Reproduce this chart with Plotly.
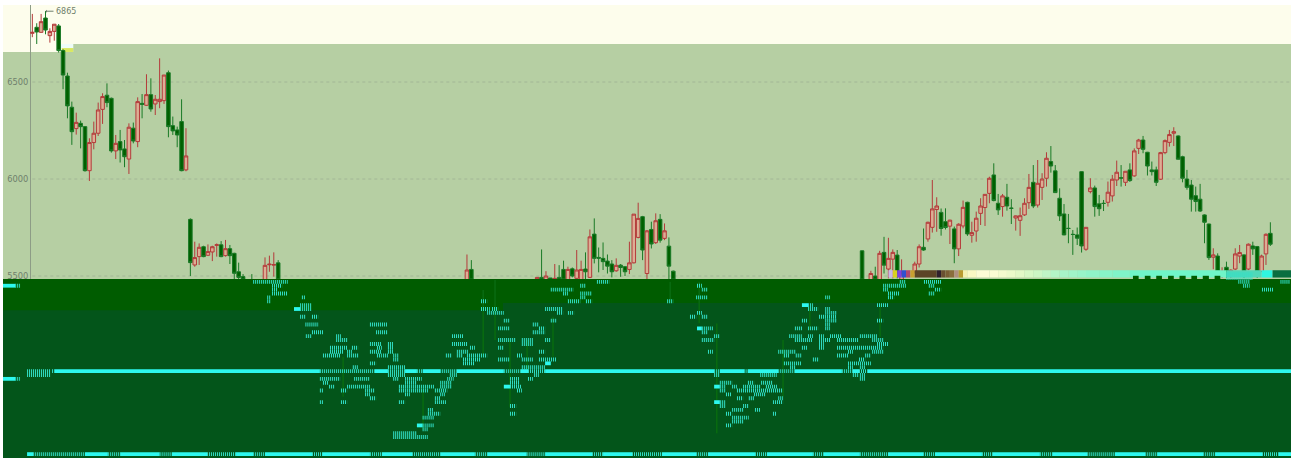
import plotly.graph_objects as go

TICK_VALUES = [5500, 6000, 6500]
PEAK_BAR = 3
PEAK_VALUE = 6865

BAR = list(range(49)) + [50, 53, 54, 55, 56, 99, 100] + list(range(115, 147)) + [189] + list(range(191, 199)) + list(range(201, 283))
OPEN = [6751,6782,6756,6830,6739,6761,6789,6662,6531,6370,6260,6287,6270,6043,6188,6236,6359,6432,6416,6145,6193,6155,6103,6262,6193,6390,6380,6435,6387,6399,6404,6548,6275,6253,6296,6047,5792,5557,5600,5651,5607,5624,5658,5661,5605,5641,5617,5522,5497,
        5480,5480,5558,5556,5568,5480,5534,
        5480,5493,5480,5490,5480,5493,5534,5480,5537,5488,5480,5536,5493,5716,5596,5591,5577,5562,5527,5556,5548,5534,5568,5699,5806,5513,5740,5672,5792,5694,5654,5525,
        5630,
        5480,5500,5480,5622,5536,5587,5608,5480,
        5522,5562,5648,5691,5751,5843,5828,5780,5757,5743,5640,5758,5880,5710,5732,5823,5853,5926,6021,5875,5858,5906,5850,5799,5787,5815,5878,5983,5866,5957,6004,6090,6042,5901,5820,5746,5715,5712,6038,5638,5935,5954,5872,5875,5880,5913,5995,6006,5983,6047,6016,6158,6201,6138,6047,6047,5999,6136,6189,6236,6222,6115,6000,5969,5914,5896,5815,5768,5597,5603,5505,5545,5505,5536,5603,5609,5536,5655,5652,5523,5614,5720]
HIGH = [6851,6803,6851,6866,6777,6799,6799,6669,6548,6399,6342,6301,6273,6210,6296,6394,6442,6493,6420,6227,6253,6201,6287,6291,6421,6438,6540,6519,6433,6622,6536,6559,6322,6270,6411,6262,5797,5677,5668,5656,5663,5656,5668,5680,5686,5660,5620,5569,5510,
        5510,5596,5605,5622,5582,5611,5582,
        5493,5637,5525,5490,5562,5556,5579,5548,5544,5634,5579,5622,5740,5797,5647,5673,5611,5582,5591,5562,5551,5677,5819,5878,5810,5737,5780,5823,5819,5771,5699,5528,
        5632,
        5527,5548,5630,5702,5697,5637,5634,5586,
        5574,5663,5745,5780,5995,5906,5848,5849,5790,5755,5772,5889,5883,5780,5832,5901,5921,6012,6081,5923,5923,5975,5896,5812,5853,5901,6026,6072,6098,6030,6138,6170,6072,5952,5871,5820,5737,5750,6040,5751,6004,5966,5918,5892,5987,6021,6095,6072,6040,6081,6158,6207,6222,6140,6090,6064,6140,6204,6253,6267,6225,6120,6047,5995,5961,5975,5818,5770,5643,5617,5545,5574,5535,5643,5660,5612,5668,5677,5655,5610,5720,5777]
LOW = [6731,6696,6755,6746,6703,6713,6652,6463,6313,6176,6229,6158,6038,5990,6153,6222,6284,6370,6136,6103,6085,6061,6026,6184,6164,6313,6377,6347,6330,6365,6387,6215,6227,6164,6040,6040,5500,5548,5557,5597,5603,5577,5600,5597,5600,5562,5483,5483,5483,
       5465,5470,5522,5497,5470,5470,5470,
       5470,5470,5470,5470,5470,5470,5470,5470,5493,5470,5470,5480,5490,5565,5519,5531,5513,5493,5522,5496,5500,5510,5565,5694,5582,5483,5642,5665,5672,5685,5483,5470,
       5470,
       5470,5470,5470,5513,5488,5488,5488,5470,
       5513,5544,5630,5677,5724,5728,5708,5740,5665,5566,5603,5746,5707,5672,5677,5763,5758,5875,5885,5815,5806,5837,5768,5734,5707,5810,5846,5850,5853,5892,5961,6033,5928,5784,5710,5669,5609,5660,5621,5630,5926,5806,5810,5835,5858,5884,5964,5961,5964,5985,6012,6129,6133,6018,6018,5964,5995,6128,6167,6170,6100,5983,5945,5832,5832,5830,5669,5583,5535,5523,5490,5490,5490,5530,5566,5490,5530,5609,5490,5520,5557,5655]
CLOSE = [6756,6758,6811,6768,6761,6798,6662,6536,6377,6244,6292,6270,6043,6188,6236,6356,6425,6394,6145,6184,6150,6115,6267,6196,6399,6385,6435,6361,6411,6411,6536,6270,6248,6227,6043,6119,5569,5595,5648,5600,5626,5651,5661,5600,5641,5605,5514,5493,5483,
         5470,5555,5561,5559,5480,5531,5480,
         5493,5480,5500,5480,5488,5480,5480,5534,5500,5531,5534,5522,5702,5591,5592,5574,5551,5522,5555,5544,5522,5568,5819,5797,5634,5733,5665,5785,5685,5733,5551,5480,
         5480,
         5513,5480,5617,5556,5591,5622,5513,5510,
         5562,5651,5634,5777,5846,5861,5745,5750,5788,5640,5767,5854,5717,5724,5798,5861,5921,6004,5889,5841,5913,5861,5849,5810,5811,5875,5957,5861,5978,6000,6107,6067,5930,5810,5712,5745,5714,5695,5655,5751,5954,5858,5847,5874,5932,5999,6035,6005,6040,5992,6145,6201,6153,6067,6038,5983,6136,6198,6229,6244,6102,6004,5957,5896,5884,5835,5777,5595,5609,5523,5525,5523,5530,5614,5621,5523,5664,5640,5523,5603,5715,5664]

# rows of the overlay grid: value, then the bar spans drawn solid on that row
SOLID_ROWS = [5450, 4970, 5010, 4582, 5330, 4930, 5050, 4730, 5350, 5230, 4850]
SOLID_SPANS = [
    [(-6.7, -3.9)],
    [(-6.7, -3.9)],
    [(5, 65.5), (78, 81), (84.9, 87.6), (88.9, 92.9), (96.7, 107.4), (111.3, 112.9), (116.8, 155.3), (156.6, 162.2), (163, 169.9), (173.7, 184.4), (186.9, 188.3), (190.2, 286.7)],
    [(-1.2, 0.2), (12, 17.2), (20, 29), (31.8, 39.8), (46.4, 50.3), (53, 63.7), (66, 76.9), (79.6, 86.5), (92.9, 100.8), (103.6, 112.6), (116.8, 127.5), (130, 136.6), (143.4, 151.2), (153.9, 164.6), (167.3, 177.8), (180.3, 188.5), (194.9, 202.9), (205.6, 216.3), (218.8, 229.5), (232.3, 240.3), (246.6, 253.5), (256.2, 266.7), (269.4, 280.1), (283.8, 286.7)],
    [(59.6, 61)],
    [(107.4, 108.8), (155.3, 156.6)],
    [(116.8, 118.1)],
    [(87.6, 88.9)],
    [(175.3, 176.7)],
    [(151.4, 152.5)],
    [(155.3, 156.6)],
]

STRIPE_ROWS = [5510, 5490, 5470, 5450, 5430, 5410, 5390, 5370, 5350, 5330, 5310, 5290, 5270, 5250, 5230, 5210, 5190, 5170, 5150, 5130, 5110, 5090, 5070, 5050, 5030, 5010, 4990, 4970, 4950, 4930, 4910, 4890, 4870, 4850, 4830, 4810, 4790, 4770, 4750, 4730, 4710, 4690, 4670, 4582]
STRIPE_SPANS = [
    [(272, 278)],
    [(272, 278)],
    [(50.3, 58.2), (128.6, 131.4), (197.6, 199), (203.1, 207), (274.7, 277.3), (284.3, 286.5)],
    [(-3.9, -2.8), (54.6, 56.9), (124.8, 126.1), (151.4, 152.5), (193.8, 199), (204.2, 205.6), (275.8, 277.3)],
    [(54.6, 55.8), (118.1, 123.2), (152.5, 153.9), (193.8, 194.9), (205.6, 207), (280.1, 282.6)],
    [(54.6, 58.2), (120.9, 122), (124.8, 127.5), (194.9, 197.6), (204.2, 205.6)],
    [(53.5, 54.2), (61.4, 62.2), (124.8, 126.1), (151.2, 153.9), (180.6, 181.7), (194.9, 196.3)],
    [(53.5, 54.2), (102.2, 103.6), (122, 124.8), (126.1, 127.5), (144.6, 146)],
    [(61, 63.7), (176.7, 177.8), (192.4, 194.9)],
    [(61, 63.7), (102.2, 104.2), (104.7, 106.1), (116.8, 120.9), (176.7, 179), (180.6, 181.7)],
    [(103.6, 107.4), (119.5, 120.9), (122, 123.4), (151.4, 152.5), (180.6, 183.3)],
    [(61, 62.2), (63.7, 65.1), (149.8, 151.2), (152.5, 153.9), (179.2, 183.3)],
    [(107.4, 108.8), (118.1, 119.5), (175.3, 176.5), (180.6, 183.3), (192.4, 193.8)],
    [(62.2, 65.1), (76.9, 81), (114, 115.4), (180.6, 181.7)],
    [(106.1, 108.8), (115.4, 116.8), (152.5, 155), (173.7, 175.3), (176.7, 179), (180.6, 181.7)],
    [(63.7, 66.2), (78.3, 81), (114, 116.8), (152.5, 153.9)],
    [(62.3, 63.7), (69.2, 70.3), (95.6, 98.1), (155.3, 156.6), (172.4, 175.3), (176.7, 177.8), (179.2, 180.3), (181.7, 184.4), (188.5, 192.4)],
    [(69.2, 71.7), (106.1, 110.2), (111.5, 114), (116.8, 118.1), (152.5, 155.3), (173.7, 177.8), (179.2, 181.7), (183.3, 188.3), (191.3, 193.8)],
    [(76.9, 79.6), (81, 82.2), (95.6, 99.2), (111.5, 114), (179.2, 180.3), (192.4, 195.1)],
    [(67.8, 71.7), (72.8, 74.2), (78.5, 79.6), (81, 82.2), (99.7, 100.8), (106.1, 107.4), (175.3, 176.5), (179.2, 180.3), (183.3, 193.8)],
    [(67.8, 70.8), (71.7, 72.8), (76.9, 79.6), (81, 82.2), (96.7, 99.2), (115.4, 116.8), (153.9, 155), (169.9, 173.9), (185.8, 186.9), (191.3, 193.8)],
    [(66.2, 70.3), (71.7, 74.2), (78.5, 79.6), (79.9, 81), (82.2, 83.5), (94.2, 95.6), (96.7, 98.1), (99, 103.6), (110.4, 111.5), (171.2, 172.4), (173.9, 175.3), (183.3, 185.8), (189.7, 191)],
    [(82.2, 83.5), (98.1, 102), (106.1, 108.8), (111.5, 114), (115.4, 119.5), (177.8, 179.2), (188.3, 189.7)],
    [(76.9, 78.3), (98.1, 100.8), (171.2, 175.3), (185.8, 191)],
    [(73, 74.2), (81, 84.9), (111.5, 116.8), (172.6, 173.9), (185.8, 186.9), (188.5, 189.7)],
    [(-1.2, 4.2), (4.5, 5), (65.5, 78), (81, 84.9), (87.6, 88.9), (92.9, 96.7), (107.4, 111.3), (112.9, 116.8), (155.3, 156.6), (162.2, 163), (169.9, 173.7), (184.4, 186.9), (188.3, 190.2)],
    [(-1.2, 4.2), (81, 84.9), (95.1, 96.7), (114.3, 115.4), (155.3, 156.6), (165.8, 169.6), (186.9, 188.3), (188.5, 189.7)],
    [(-3.9, -2.8), (65.5, 70.1), (73.3, 76.9), (82.2, 83.5), (84.9, 88.7), (94.5, 96), (108.8, 110.9), (112.9, 114), (188.5, 189.7)],
    [(66.2, 67.4), (84.9, 87.6), (92.9, 95.6), (108.8, 110.9), (156.6, 159.4), (163, 164.4), (166, 168.5)],
    [(67.6, 68.9), (71.7, 76.9), (83.5, 91.7), (92.9, 95.6), (108.8, 111.5), (156.6, 158), (159.4, 160.5), (161.9, 165.8), (167.1, 169.6)],
    [(65.5, 66.2), (70.3, 71.7), (75.8, 78), (83.5, 90.1), (91.7, 94.5), (110.4, 111.5), (156.6, 158), (160.5, 171)],
    [(75.8, 76.9), (84.9, 86), (92.9, 94), (158, 159.2), (164.4, 167.1)],
    [(76.9, 78.3), (91.7, 92.9), (160.5, 161.9), (163.2, 164.4), (169.9, 171)],
    [(65.5, 66.2), (70.3, 71.7), (83.5, 84.9), (91.7, 94.2), (156.6, 158), (168.7, 171)],
    [(108.8, 110.2), (156.6, 158), (161.9, 163.2)],
    [(90.1, 91.3), (159.4, 161.9), (164.6, 165.8)],
    [(90.1, 92.9), (108.8, 110.2), (158, 159.4), (168.7, 169.6)],
    [(88.9, 91.5), (159.4, 163.2)],
    [(159.4, 161.9)],
    [(88.9, 91.5), (158, 159.4)],
    [(88.9, 90.1)],
    [(82.2, 87.6)],
    [(82.2, 90.1)],
    [(0.2, 12), (17.2, 20), (29, 31.8), (39.8, 46.4), (50.3, 53), (63.7, 66), (76.9, 79.6), (86.5, 92.9), (100.8, 103.6), (112.6, 116.8), (127.5, 130), (136.6, 143.4), (151.2, 153.9), (164.6, 167.3), (177.8, 180.3), (188.5, 194.9), (202.9, 205.6), (216.3, 218.8), (229.5, 232.3), (240.3, 246.6), (253.5, 256.2), (266.7, 269.4), (280.1, 283.8)],
]

# faint wick remains inside the dark area
FAINT_BAR = [145.3, 151.9, 155.9, 89, 70.8, 102.7, 105.4, 108.8, 118.6, 112.7, 171, 177.1, 193.1]
FAINT_TOP = [5470, 5470, 5256, 4912, 5084, 5428, 5480, 5170, 5290, 5170, 5170, 5342, 5359]
FAINT_LOW = [5376, 5256, 4689, 4706, 4878, 5084, 5170, 4826, 5084, 5015, 4878, 5222, 5187]

STRIP_LEVEL = 5511
STRIP_SPANS = [
    (195, 196, "#c8b8e8"), (196, 197, "#d8d020"), (197, 198, "#8040e0"), (198, 199, "#3050d0"),
    (199, 200, "#b04870"), (200, 201, "#c8a030"), (201, 206, "#5c4426"), (206, 207, "#30202c"),
    (207, 208, "#6a5030"), (208, 209, "#7a5e34"), (209, 210, "#8a6e3c"), (210, 211, "#b09080"),
    (211, 212, "#b89a30"), (212, 213, "#f4f0b0"), (213, 215, "#faf8c4"), (215, 218, "#fdfcd6"),
    (218, 220, "#fbfcd4"), (220, 222, "#f4fbce"), (222, 224, "#ecfaca"), (224, 226, "#e2f8c6"),
    (226, 228, "#d6f7c4"), (228, 230, "#ccf6c4"), (230, 232, "#c0f5c6"), (232, 234, "#b4f5c6"),
    (234, 236, "#a8f4c8"), (236, 238, "#a0f4c8"), (238, 240, "#98f4c8"), (240, 243, "#90f4c8"),
    (243, 246, "#88f4c8"), (246, 250, "#80f4c8"), (250, 272, "#70f5c8"),
    (272, 280, "#50d8b8"), (280, 282.5, "#30f5e0"), (282.5, 286.7, "#0a6e40"),
]
NOTCH_LEVEL = 5492
NOTCH_SPANS = [(250.7, 252), (253.4, 254.7), (256, 257.3), (258.7, 260), (261.3, 262.7), (264, 265.3), (266.6, 268), (269.3, 270.6)]
BAND_EDGE_LEFT = 5324
BAND_EDGE_RIGHT = 5361
BAND_TOP = 5484.5
BAND_STEP_BAR = 107.2

X_RANGE = [-6.68, 286.7]
Y_RANGE = [4562, 6897]

GREEN_BG = "#b6cfa3"
CREAM = "#fdfdec"
DARK_BAND = "#005c00"
LOWER_BAND = "#03551a"
CYAN = "#2df8ee"
TEAL = "#33e0c8"
GREY = "#6f7f6c"


def spans_to_xy(rows, spans):
    xs, ys = [], []
    for level, row in zip(rows, spans):
        for a, b in row:
            xs += [a, b, None]
            ys += [level, level, None]
    return xs, ys


fig = go.Figure()

fig.add_trace(go.Candlestick(
    x=BAR, open=OPEN, high=HIGH, low=LOW, close=CLOSE,
    increasing=dict(line=dict(color="#b43a3a", width=1), fillcolor="#dcae94"),
    decreasing=dict(line=dict(color="#1a7a26", width=1), fillcolor="#006000"),
    whiskerwidth=0, hoverinfo="skip", showlegend=False,
))

# strip along the top of the dark band (covers candles)
for a, b, colour in STRIP_SPANS:
    fig.add_trace(go.Scatter(x=[a, b], y=[STRIP_LEVEL, STRIP_LEVEL], mode="lines",
                             line=dict(color=colour, width=7.3), hoverinfo="skip", showlegend=False))

fig.add_trace(go.Scatter(
    x=[X_RANGE[0], X_RANGE[1], X_RANGE[1], X_RANGE[0]],
    y=[BAND_TOP, BAND_TOP, Y_RANGE[0], Y_RANGE[0]],
    mode="lines", fill="toself", fillcolor=LOWER_BAND, line=dict(width=0), hoverinfo="skip", showlegend=False))
fig.add_trace(go.Scatter(
    x=[X_RANGE[0], X_RANGE[1], X_RANGE[1], BAND_STEP_BAR, BAND_STEP_BAR, X_RANGE[0]],
    y=[BAND_TOP, BAND_TOP, BAND_EDGE_RIGHT, BAND_EDGE_RIGHT, BAND_EDGE_LEFT, BAND_EDGE_LEFT],
    mode="lines", fill="toself", fillcolor=DARK_BAND, line=dict(width=0), hoverinfo="skip", showlegend=False))

fx, fy = [], []
for b, t, l in zip(FAINT_BAR, FAINT_TOP, FAINT_LOW):
    fx += [b, b, None]
    fy += [t, l, None]
fig.add_trace(go.Scatter(x=fx, y=fy, mode="lines", line=dict(color="#086a10", width=1.6),
                         hoverinfo="skip", showlegend=False))

nx, ny = spans_to_xy([NOTCH_LEVEL] * len(NOTCH_SPANS), [[s] for s in NOTCH_SPANS])
fig.add_trace(go.Scatter(x=nx, y=ny, mode="lines", line=dict(color=DARK_BAND, width=3.6),
                         hoverinfo="skip", showlegend=False))

sx, sy = spans_to_xy(STRIPE_ROWS, STRIPE_SPANS)
fig.add_trace(go.Scatter(x=sx, y=sy, mode="lines", line=dict(color=TEAL, width=3.9, dash="1px,1px"),
                         hoverinfo="skip", showlegend=False, connectgaps=False))
cx, cy = spans_to_xy(SOLID_ROWS, SOLID_SPANS)
fig.add_trace(go.Scatter(x=cx, y=cy, mode="lines", line=dict(color=CYAN, width=3.8),
                         hoverinfo="skip", showlegend=False, connectgaps=False))

shapes = [
    dict(type="rect", layer="below", xref="paper", yref="y", x0=0, x1=1, y0=6696, y1=Y_RANGE[1], fillcolor=CREAM, line_width=0),
    dict(type="rect", layer="below", xref="x", yref="y", x0=X_RANGE[0], x1=9.3, y0=6655, y1=6696, fillcolor=CREAM, line_width=0),
    dict(type="rect", layer="below", xref="x", yref="y", x0=6.5, x1=9.3, y0=6675, y1=6696, fillcolor="#eefcf8", line_width=0),
    dict(type="rect", layer="below", xref="x", yref="y", x0=6.7, x1=9.3, y0=6655, y1=6675, fillcolor="#d8e860", line_width=0),
]
for v in TICK_VALUES:
    shapes.append(dict(type="line", layer="below", xref="x", yref="y", x0=0, x1=X_RANGE[1], y0=v, y1=v,
                       line=dict(color="#a3b697", width=1, dash="dot")))

fig.update_layout(
    width=1294, height=458,
    margin=dict(l=3, r=3, t=5, b=0, autoexpand=False),
    paper_bgcolor="white", plot_bgcolor=GREEN_BG,
    showlegend=False, shapes=shapes, boxgap=0.1, boxgroupgap=0.1,
    font=dict(family="DejaVu Sans", size=8, color=GREY),
    xaxis=dict(range=X_RANGE, visible=False, rangeslider=dict(visible=False), fixedrange=True),
    yaxis=dict(range=Y_RANGE, tickvals=TICK_VALUES, ticktext=[str(v) for v in TICK_VALUES],
               anchor="free", position=27 / 1288, showgrid=False, zeroline=False, showline=True,
               linecolor="#8d9c86", linewidth=1, ticks="", layer="below traces", fixedrange=True,
               tickfont=dict(family="DejaVu Sans", size=8.3, color=GREY), automargin=False),
    annotations=[dict(x=PEAK_BAR, y=PEAK_VALUE, xref="x", yref="y", text=str(PEAK_VALUE), showarrow=True,
                      ax=8, ay=0, xanchor="left", arrowhead=1, arrowsize=0.5, arrowwidth=1, arrowcolor=GREY,
                      font=dict(family="DejaVu Sans", size=8, color=GREY))],
)

fig.write_html("out.html", post_script="document.body.style.margin='0';document.body.style.overflow='hidden';",
               config=dict(displayModeBar=False))
